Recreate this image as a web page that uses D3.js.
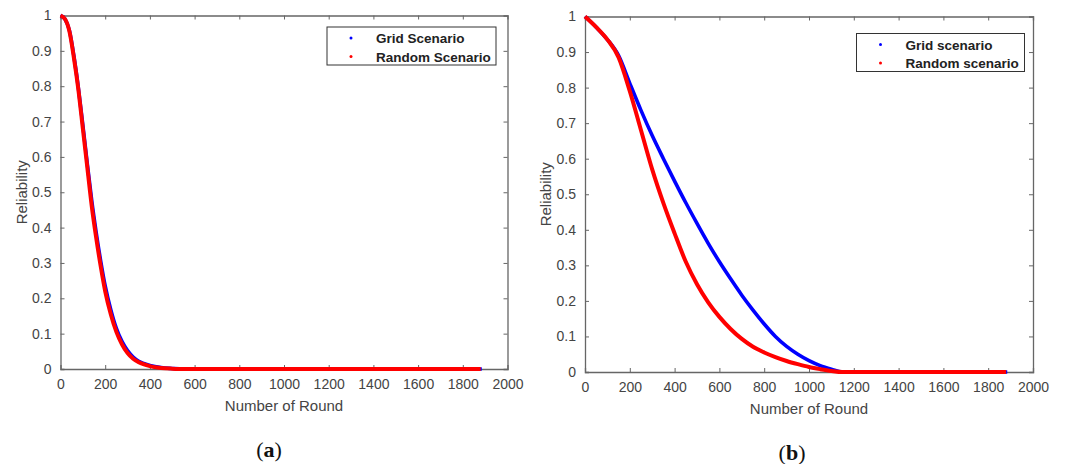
<!DOCTYPE html>
<html>
<head>
<meta charset="utf-8">
<script src="https://cdn.jsdelivr.net/npm/d3@7"></script>
<style>
  body { margin: 0; background: #fff; }
  svg text { font-family: "Liberation Sans", Arial, sans-serif; }
</style>
</head>
<body>
<svg class="fig" width="1067" height="464"></svg>
<script>
// x-axis (Number of Round) and y-axis (Reliability) ticks
const xTicks = [0, 200, 400, 600, 800, 1000, 1200, 1400, 1600, 1800, 2000]
const yTicks = [0, 0.1, 0.2, 0.3, 0.4, 0.5, 0.6, 0.7, 0.8, 0.9, 1]

// panel (a)
const roundsA = [0, 20, 40, 60, 80, 100, 120, 140, 160, 180, 200, 225, 250, 275, 300, 325, 350, 400, 450, 500, 550, 1880]
const gridA   = [1, 0.99, 0.957, 0.885, 0.795, 0.69, 0.58, 0.475, 0.385, 0.305, 0.235, 0.168, 0.115, 0.078, 0.052, 0.034, 0.022, 0.01, 0.004, 0.0015, 0, 0]
const randA   = [1, 0.99, 0.955, 0.88, 0.79, 0.68, 0.57, 0.46, 0.37, 0.29, 0.22, 0.155, 0.105, 0.07, 0.045, 0.029, 0.019, 0.008, 0.003, 0.001, 0, 0]

// panel (b)
const roundsB = [0, 50, 100, 150, 200, 250, 300, 350, 400, 450, 500, 550, 600, 650, 700, 750, 800, 850, 900, 950, 1000, 1050, 1100, 1150, 1880]
const gridB   = [1, 0.97, 0.935, 0.89, 0.812, 0.736, 0.665, 0.6, 0.537, 0.476, 0.418, 0.362, 0.31, 0.262, 0.216, 0.174, 0.135, 0.1, 0.072, 0.05, 0.032, 0.018, 0.008, 0, 0]
const randB   = [1, 0.97, 0.935, 0.885, 0.79, 0.68, 0.57, 0.475, 0.39, 0.31, 0.247, 0.196, 0.155, 0.121, 0.093, 0.071, 0.055, 0.042, 0.031, 0.022, 0.014, 0.008, 0.003, 0, 0]

const svg = d3.select('.fig')
const axisColor = '#666'
const textColor = '#444'

function panel(opt) {
  const xScale = d3.scaleLinear().domain([0, 2000]).range([opt.left, opt.right])
  const yScale = d3.scaleLinear().domain([0, 1]).range([opt.bottom, opt.top])
  const g = svg.append('g')
  const fmt = d => d3.format('~g')(d)

  // axes box with inward ticks
  const bottom = g.append('g').attr('transform', `translate(0,${opt.bottom})`)
    .call(d3.axisBottom(xScale).tickValues(xTicks).tickFormat(fmt).tickSize(-4).tickPadding(10))
  const top = g.append('g').attr('transform', `translate(0,${opt.top})`)
    .call(d3.axisTop(xScale).tickValues(xTicks).tickFormat('').tickSize(-4))
  const left = g.append('g').attr('transform', `translate(${opt.left},0)`)
    .call(d3.axisLeft(yScale).tickValues(yTicks).tickFormat(fmt).tickSize(-4).tickPadding(9))
  const right = g.append('g').attr('transform', `translate(${opt.right},0)`)
    .call(d3.axisRight(yScale).tickValues(yTicks).tickFormat('').tickSize(-4))
  g.selectAll('.domain').attr('stroke', axisColor).attr('stroke-width', 1.3)
  g.selectAll('.tick line').attr('stroke', axisColor)
  g.selectAll('.tick text').attr('fill', textColor).attr('font-size', 14)
    .attr('font-family', '"Liberation Sans", Arial, sans-serif')
  // drop edge ticks that overlap the box
  ;[bottom, top].forEach(a => a.selectAll('.tick line').filter(d => d === 0 || d === 2000).remove())
  ;[left, right].forEach(a => a.selectAll('.tick line').filter(d => d === 0 || d === 1).remove())

  const line = d3.line().x(d => xScale(d[0])).y(d => yScale(d[1])).curve(d3.curveMonotoneX)
  g.append('path').datum(opt.rounds.map((r, i) => [r, opt.grid[i]]).concat([[1885, 0]]))
    .attr('d', line).attr('fill', 'none').attr('stroke', '#0000ff').attr('stroke-width', 3.6)
  g.append('path').datum(opt.rounds.map((r, i) => [r, opt.rand[i]]))
    .attr('d', line).attr('fill', 'none').attr('stroke', '#ff0000').attr('stroke-width', 4)

  // axis titles
  g.append('text').attr('x', (opt.left + opt.right) / 2).attr('y', opt.bottom + 42)
    .attr('text-anchor', 'middle').attr('font-size', 15).attr('fill', textColor)
    .text('Number of Round')
  g.append('text').attr('transform', `translate(${opt.left - 34},${(opt.top + opt.bottom) / 2}) rotate(-90)`)
    .attr('text-anchor', 'middle').attr('font-size', 15).attr('fill', textColor)
    .text('Reliability')

  // legend
  const lg = g.append('g').attr('transform', `translate(${opt.legend[0]},${opt.legend[1]})`)
  lg.append('rect').attr('width', opt.legend[2]).attr('height', 38)
    .attr('fill', '#fff').attr('stroke', '#333').attr('stroke-width', 1)
  opt.labels.forEach((t, i) => {
    lg.append('circle').attr('cx', 24).attr('cy', 11 + i * 18.5).attr('r', 1.5)
      .attr('fill', i === 0 ? '#0000ff' : '#ff0000')
    lg.append('text').attr('x', 49).attr('y', 16 + i * 18.5)
      .attr('font-size', 13.5).attr('font-weight', 'bold').attr('fill', '#222').text(t)
  })

  // sub-caption
  const cap = g.append('text').attr('x', opt.capX).attr('y', opt.capY)
    .attr('text-anchor', 'middle').attr('font-size', 22)
    .attr('style', 'font-family: "Liberation Serif", "DejaVu Serif", serif').attr('fill', '#111')
  cap.append('tspan').text('(')
  cap.append('tspan').attr('font-weight', 'bold').text(opt.cap)
  cap.append('tspan').text(')')
}

panel({ left: 60.5, right: 507.5, top: 15.5, bottom: 369, rounds: roundsA, grid: gridA, rand: randA,
  labels: ['Grid Scenario', 'Random Scenario'], legend: [327, 27, 169], cap: 'a', capX: 269, capY: 457 })
panel({ left: 585, right: 1033, top: 16.5, bottom: 372, rounds: roundsB, grid: gridB, rand: randB,
  labels: ['Grid scenario', 'Random scenario'], legend: [856.5, 33.5, 168], cap: 'b', capX: 792, capY: 460 })
</script>
</body>
</html>
